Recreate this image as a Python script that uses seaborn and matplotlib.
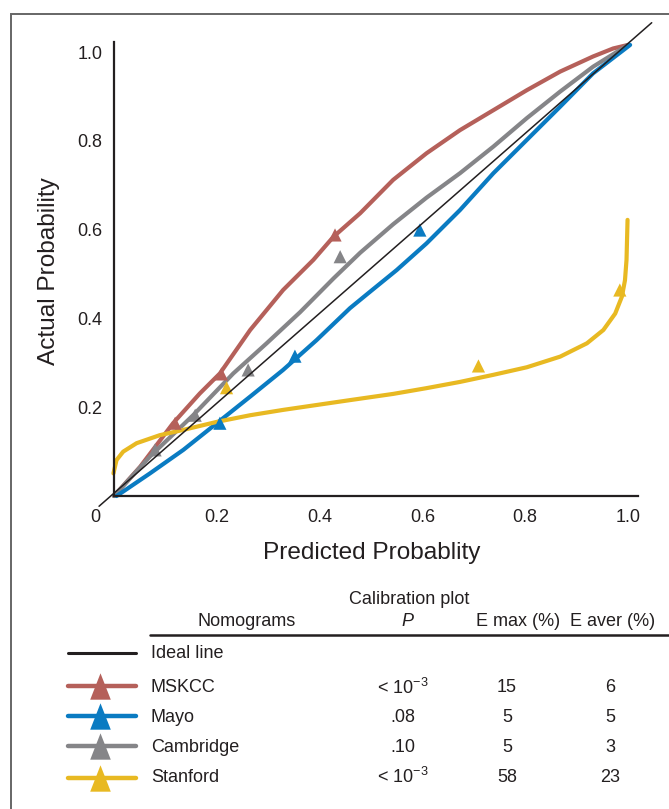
import pandas as pd
import seaborn as sns
import matplotlib.pyplot as plt
from matplotlib.patches import Rectangle
from matplotlib.lines import Line2D

# Curvas de calibracao
mskcc_x = [0.0, 0.051, 0.115, 0.167, 0.206, 0.265, 0.329, 0.388, 0.427, 0.479, 0.543,
           0.608, 0.673, 0.738, 0.803, 0.868, 0.932, 0.971, 1.0]
mskcc_y = [0.0, 0.066, 0.164, 0.231, 0.276, 0.374, 0.464, 0.532, 0.584, 0.637, 0.712,
           0.772, 0.824, 0.869, 0.914, 0.956, 0.99, 1.008, 1.016]

cambridge_x = [0.0, 0.07, 0.154, 0.232, 0.297, 0.362, 0.427, 0.479, 0.543, 0.608,
               0.673, 0.738, 0.803, 0.868, 0.932, 1.0]
cambridge_y = [0.0, 0.089, 0.182, 0.276, 0.344, 0.414, 0.49, 0.548, 0.612, 0.672,
               0.727, 0.787, 0.851, 0.911, 0.967, 1.016]

mayo_x = [0.005, 0.07, 0.135, 0.2, 0.265, 0.329, 0.394, 0.459, 0.498, 0.55, 0.608,
          0.673, 0.738, 0.803, 0.868, 0.932, 1.004]
mayo_y = [0.0, 0.051, 0.104, 0.164, 0.224, 0.284, 0.351, 0.423, 0.46, 0.509, 0.569,
          0.644, 0.727, 0.802, 0.877, 0.952, 1.016]

stanford_x = [-0.001, 0.005, 0.018, 0.044, 0.089, 0.135, 0.2, 0.265, 0.329, 0.394,
              0.459, 0.543, 0.608, 0.673, 0.738, 0.803, 0.868, 0.92, 0.952, 0.975,
              0.988, 0.994, 0.997, 0.999]
stanford_y = [0.051, 0.081, 0.1, 0.119, 0.137, 0.149, 0.167, 0.182, 0.194, 0.205,
              0.216, 0.23, 0.243, 0.257, 0.273, 0.29, 0.314, 0.344, 0.374, 0.411,
              0.449, 0.486, 0.532, 0.622]

# Triangulos (grupos observados)
tri_mskcc_x = [0.119, 0.209, 0.43]
tri_mskcc_y = [0.164, 0.275, 0.588]
tri_mayo_x = [0.206, 0.352, 0.595]
tri_mayo_y = [0.164, 0.315, 0.599]
tri_cambridge_x = [0.08, 0.158, 0.261, 0.44]
tri_cambridge_y = [0.104, 0.182, 0.284, 0.539]
tri_stanford_x = [0.219, 0.709, 0.984]
tri_stanford_y = [0.244, 0.293, 0.464]

# Linha ideal
ideal_x = [-0.029, 1.046]
ideal_y = [-0.023, 1.066]

# Tabela
nomogramas = ['MSKCC', 'Mayo', 'Cambridge', 'Stanford']
valores_p = [r'< 10$^{\mathregular{-3}}$', '.08', '.10', r'< 10$^{\mathregular{-3}}$']
e_max = ['15', '5', '5', '58']
e_aver = ['6', '5', '3', '23']

cores = {'MSKCC': '#b5605a', 'Mayo': '#0a7bc2', 'Cambridge': '#858588', 'Stanford': '#e8b922'}

sns.set_theme(style='white')
plt.rcParams['font.family'] = ['Liberation Sans', 'DejaVu Sans']
plt.rcParams['mathtext.fontset'] = 'custom'
plt.rcParams['mathtext.rm'] = 'Liberation Sans'
escuro = '#231f20'

curvas = pd.concat([
    pd.DataFrame({'x': mskcc_x, 'y': mskcc_y, 'modelo': 'MSKCC'}),
    pd.DataFrame({'x': cambridge_x, 'y': cambridge_y, 'modelo': 'Cambridge'}),
    pd.DataFrame({'x': mayo_x, 'y': mayo_y, 'modelo': 'Mayo'}),
    pd.DataFrame({'x': stanford_x, 'y': stanford_y, 'modelo': 'Stanford'}),
])
pontos = pd.concat([
    pd.DataFrame({'x': tri_mskcc_x, 'y': tri_mskcc_y, 'modelo': 'MSKCC'}),
    pd.DataFrame({'x': tri_cambridge_x, 'y': tri_cambridge_y, 'modelo': 'Cambridge'}),
    pd.DataFrame({'x': tri_mayo_x, 'y': tri_mayo_y, 'modelo': 'Mayo'}),
    pd.DataFrame({'x': tri_stanford_x, 'y': tri_stanford_y, 'modelo': 'Stanford'}),
])

W, H = 669, 809
fig = plt.figure(figsize=(W / 100, H / 100), dpi=100)
ax = fig.add_axes([0.1396, 0.3649, 0.853, 0.6147])

sns.lineplot(data=curvas, x='x', y='y', hue='modelo', palette=cores, sort=False,
             estimator=None, linewidth=3, legend=False, ax=ax)
sns.scatterplot(data=pontos, x='x', y='y', hue='modelo', palette=cores, marker='^',
                s=90, linewidth=0, legend=False, ax=ax, zorder=4)
sns.lineplot(x=ideal_x, y=ideal_y, color=escuro, linewidth=1.1, sort=False,
             estimator=None, ax=ax, zorder=5)
for ln in ax.lines:
    ln.set_clip_on(False)

ax.set_xlim(-0.04, 1.07)
ax.set_ylim(-0.04, 1.08)
ax.spines['left'].set_position(('data', 0))
ax.spines['bottom'].set_position(('data', 0))
ax.spines['left'].set_bounds(0, 1.022)
ax.spines['bottom'].set_bounds(0, 1.02)
for lado in ['top', 'right']:
    ax.spines[lado].set_visible(False)
for lado in ['left', 'bottom']:
    ax.spines[lado].set_linewidth(1.6)
    ax.spines[lado].set_color(escuro)

ticks = [0.2, 0.4, 0.6, 0.8, 1.0]
ax.set_xticks(ticks)
ax.set_yticks(ticks)
ax.set_xticklabels(['0.2', '0.4', '0.6', '0.8', '1.0'])
ax.set_yticklabels(['0.2', '0.4', '0.6', '0.8', '1.0'])
ax.tick_params(axis='both', direction='out', length=4.5, width=1.1, colors='#555555',
               labelcolor=escuro, labelsize=13)
ax.tick_params(axis='x', pad=5)
ax.tick_params(axis='y', pad=4)
ax.set_xlabel('')
ax.set_ylabel('')
ax.text(-0.037, -0.029, '0', ha='center', va='top', fontsize=13, color=escuro)

fig.text(49 / W, 1 - 271 / H, 'Actual Probability', rotation=90, ha='center',
         va='center', fontsize=17.6, color=escuro)
fig.text(372 / W, 1 - 553 / H, 'Predicted Probablity', ha='center', va='center',
         fontsize=17.6, color=escuro)

# Moldura
fig.patches.append(Rectangle((11 / W, -0.1), 1.2, 1 - 14 / H + 0.1, transform=fig.transFigure,
                             fill=False, edgecolor='#666666', linewidth=1.4))

# Cabecalho da tabela
tam = 13
fig.text(409 / W, 1 - 600 / H, 'Calibration plot', ha='center', va='center', fontsize=tam, color=escuro)
fig.text(247 / W, 1 - 621 / H, 'Nomograms', ha='center', va='center', fontsize=tam, color=escuro)
fig.text(407 / W, 1 - 621 / H, 'P', ha='center', va='center', fontsize=tam, style='italic', color=escuro)
fig.text(518 / W, 1 - 621 / H, 'E max (%)', ha='center', va='center', fontsize=tam, color=escuro)
fig.text(613 / W, 1 - 621 / H, 'E aver (%)', ha='center', va='center', fontsize=tam, color=escuro)
fig.add_artist(Line2D([150 / W, 1.0], [1 - 635 / H] * 2, color=escuro, linewidth=1.8))

# Linhas da tabela
fig.add_artist(Line2D([68 / W, 136 / W], [1 - 653 / H] * 2, color=escuro, linewidth=2.2))
fig.text(151 / W, 1 - 654 / H, 'Ideal line', ha='left', va='center', fontsize=tam, color=escuro)

linhas_y = [686, 716, 746, 778]
texto_y = [688, 717, 747, 777]
for nome, p, em, ea, yy, ty in zip(nomogramas, valores_p, e_max, e_aver, linhas_y, texto_y):
    yf = 1 - yy / H
    tf = 1 - ty / H
    fig.add_artist(Line2D([68 / W, 136 / W], [yf, yf], color=cores[nome], linewidth=3.2))
    fig.add_artist(Line2D([100 / W], [yf], color=cores[nome], linewidth=0,
                          marker=[(0, 1), (-0.78, -1), (0.78, -1)], markersize=19,
                          markeredgewidth=0))
    fig.text(151 / W, tf, nome, ha='left', va='center', fontsize=tam, color=escuro)
    fig.text(403 / W, tf, p, ha='center', va='center', fontsize=tam, color=escuro)
    fig.text(507 / W, tf, em, ha='center', va='center', fontsize=tam, color=escuro)
    fig.text(610 / W, tf, ea, ha='center', va='center', fontsize=tam, color=escuro)

fig.savefig('out.png', dpi=100)
